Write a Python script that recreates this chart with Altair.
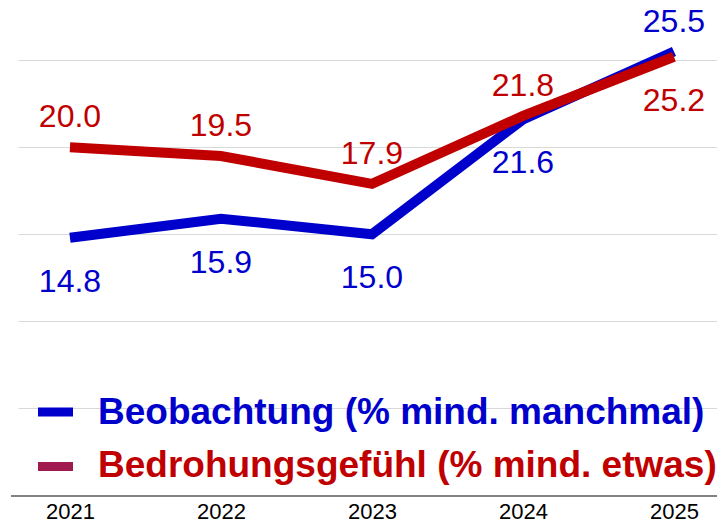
import altair as alt
import pandas as pd

years = ["2021", "2022", "2023", "2024", "2025"]
beobachtung = [14.8, 15.9, 15.0, 21.6, 25.5]
bedrohung = [20.0, 19.5, 17.9, 21.8, 25.2]
series_names = ["Beobachtung (% mind. manchmal)", "Bedrohungsgefühl (% mind. etwas)"]
beob_label_pos = ["below", "below", "below", "below", "above"]
bedr_label_pos = ["above", "above", "above", "above", "below"]
line_colors = ["#0000cc", "#c00000"]
legend_symbol_colors = ["#0000cc", "#a01a50"]

rows = []
for yr, v, p in zip(years, beobachtung, beob_label_pos):
    rows.append({"year": yr, "value": v, "series": series_names[0], "pos": p, "label": f"{v:.1f}"})
for yr, v, p in zip(years, bedrohung, bedr_label_pos):
    rows.append({"year": yr, "value": v, "series": series_names[1], "pos": p, "label": f"{v:.1f}"})
df = pd.DataFrame(rows)

FONT = "Liberation Sans"
W, H = 699, 487.5

x = alt.X("year:O", title=None, sort=years,
          scale=alt.Scale(type="point", padding=0.3146, align=0.547),
          axis=alt.Axis(ticks=False, domain=False, labelAngle=0, labelFontSize=22,
                        labelColor="black", labelFont=FONT, labelPadding=22.5,
                        labelBaseline="alphabetic", grid=False))
y = alt.Y("value:Q", title=None,
          scale=alt.Scale(domain=[0, 28], nice=False, zero=True),
          axis=alt.Axis(labels=False, ticks=False, domain=False, values=[5, 10, 15, 20, 25],
                        grid=True, gridColor="#d9d9d9", gridWidth=1.2))
color = alt.Color("series:N", scale=alt.Scale(domain=series_names, range=line_colors), legend=None)

base = alt.Chart(df)

blue_line = base.transform_filter(alt.datum.series == series_names[0]).mark_line(
    strokeWidth=10, strokeCap="butt").encode(x=x, y=y, color=color)
red_line = base.transform_filter(alt.datum.series == series_names[1]).mark_line(
    strokeWidth=10, strokeCap="butt").encode(x=x, y=y, color=color)

labels_above = base.transform_filter(alt.datum.pos == "above").mark_text(
    font=FONT, fontSize=32, baseline="alphabetic", align="center", dy=-20
).encode(x=x, y=y, color=color, text="label:N")
labels_below = base.transform_filter(alt.datum.pos == "below").mark_text(
    font=FONT, fontSize=32, baseline="alphabetic", align="center", dy=54
).encode(x=x, y=y, color=color, text="label:N")

one = pd.DataFrame({"k": [0]})
axis_line = alt.Chart(one).mark_rule(color="#5a5a5a", strokeWidth=1.5).encode(
    x=alt.value(-7), x2=alt.value(W), y=alt.value(488))

legend_layers = []
for i, (name, sym_col, txt_col) in enumerate(zip(series_names, legend_symbol_colors, line_colors)):
    ld = pd.DataFrame({"series": [name]})
    sym_y = 404 + i * 54.5
    txt_y = 416 + i * 53
    legend_layers.append(alt.Chart(ld).mark_rule(strokeWidth=9, strokeCap="butt").encode(
        x=alt.value(20), x2=alt.value(55), y=alt.value(sym_y), color=alt.value(sym_col)))
    legend_layers.append(alt.Chart(ld).mark_text(
        font=FONT, fontSize=37, fontWeight="bold", align="left", baseline="alphabetic"
    ).encode(x=alt.value(80), y=alt.value(txt_y), text="series:N", color=alt.value(txt_col)))

chart = alt.layer(
    blue_line, red_line, labels_above, labels_below, axis_line, *legend_layers
).properties(
    width=W, height=H,
    autosize=alt.AutoSizeParams(type="none"),
    padding={"left": 10, "top": 0, "right": 0, "bottom": 27.5},
    background="white",
).configure_view(stroke=None)

chart.save("out.html", embed_options={"renderer": "svg", "actions": False})
